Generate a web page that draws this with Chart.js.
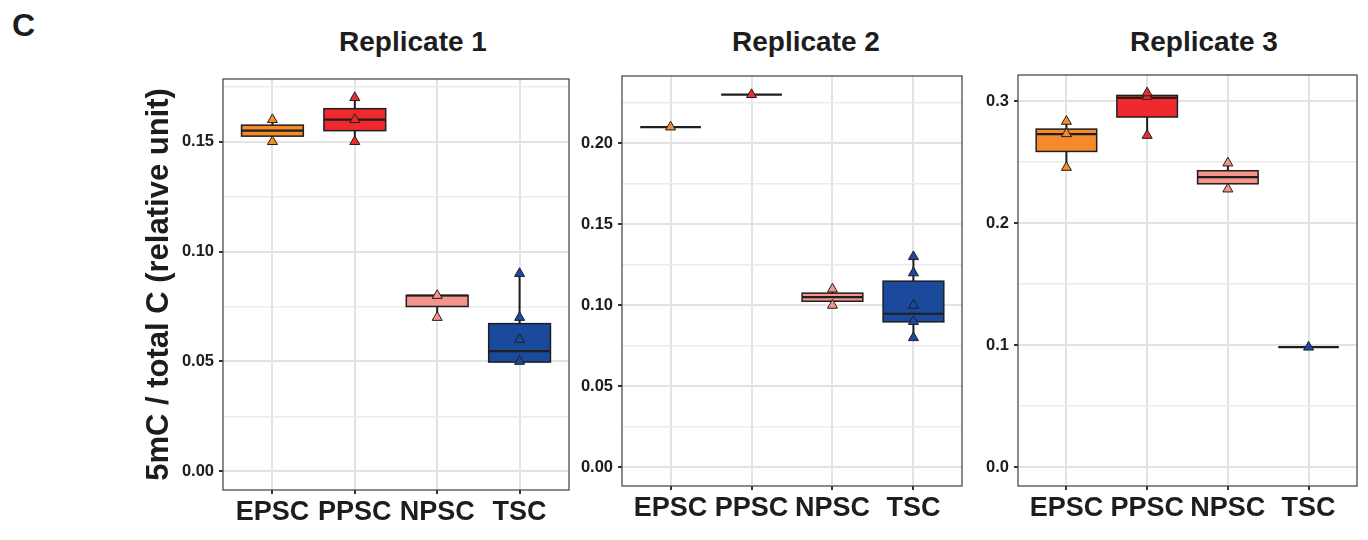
<!DOCTYPE html>
<html>
<head>
<meta charset="utf-8">
<script src="https://cdn.jsdelivr.net/npm/chart.js@4.4.1/dist/chart.umd.min.js"></script>
<style>
  html, body { margin: 0; padding: 0; background: #fff; }
  body { width: 1368px; height: 540px; position: relative; overflow: hidden;
         font-family: 'Liberation Sans', Arial, sans-serif; color: #1d1d1d; }
  .lbl { position: absolute; font-weight: bold; white-space: nowrap; }
  .title { font-size: 28px; line-height: 28px; width: 300px; text-align: center; top: 28px; }
  canvas { position: absolute; top: 0; }
</style>
</head>
<body>
<div class="lbl" style="left:12px; top:9px; font-size:32px; line-height:32px;">C</div>
<div class="lbl title" style="left:263px;">Replicate 1</div>
<div class="lbl title" style="left:656px;">Replicate 2</div>
<div class="lbl title" style="left:1054px;">Replicate 3</div>

<canvas id="rep1" width="576" height="540" style="left:0px"></canvas>
<canvas id="rep2" width="400" height="540" style="left:570px"></canvas>
<canvas id="rep3" width="402" height="540" style="left:966px"></canvas>

<script>
// categories and group colours
const categories = ['EPSC', 'PPSC', 'NPSC', 'TSC'];
const fillColors = ['#F58A2B', '#EE2A2F', '#F4948B', '#1B4A9C'];

// Replicate 1 - individual measurements and box statistics
const rep1Points = [[0.15, 0.16], [0.15, 0.16, 0.17], [0.07, 0.08], [0.05, 0.06, 0.07, 0.09]];
const rep1Lo  = [0.15, 0.15, 0.07, 0.05];
const rep1Q1  = [0.1525, 0.155, 0.075, 0.0497];
const rep1Med = [0.155, 0.16, 0.08, 0.0547];
const rep1Q3  = [0.1575, 0.165, 0.08, 0.0672];
const rep1Hi  = [0.16, 0.17, 0.08, 0.09];
const rep1Ticks  = [0, 0.05, 0.10, 0.15];
const rep1Labels = ['0.00', '0.05', '0.10', '0.15'];
const rep1Minor  = [0.025, 0.075, 0.125, 0.175];

// Replicate 2
const rep2Points = [[0.21], [0.23], [0.10, 0.11], [0.08, 0.09, 0.10, 0.12, 0.13]];
const rep2Lo  = [0.21, 0.23, 0.10, 0.08];
const rep2Q1  = [0.21, 0.23, 0.1025, 0.0898];
const rep2Med = [0.21, 0.23, 0.105, 0.0948];
const rep2Q3  = [0.21, 0.23, 0.1075, 0.1149];
const rep2Hi  = [0.21, 0.23, 0.11, 0.13];
const rep2Ticks  = [0, 0.05, 0.10, 0.15, 0.20];
const rep2Labels = ['0.00', '0.05', '0.10', '0.15', '0.20'];
const rep2Minor  = [0.025, 0.075, 0.125, 0.175, 0.225];

// Replicate 3
const rep3Points = [[0.2456, 0.2732, 0.2833], [0.2718, 0.3038, 0.3066], [0.2279, 0.2492], [0.0984]];
const rep3Lo  = [0.2456, 0.2718, 0.2279, 0.0984];
const rep3Q1  = [0.2587, 0.2869, 0.2322, 0.0984];
const rep3Med = [0.2729, 0.3025, 0.2377, 0.0984];
const rep3Q3  = [0.2770, 0.3046, 0.2429, 0.0984];
const rep3Hi  = [0.2833, 0.3066, 0.2492, 0.0984];
const rep3Ticks  = [0, 0.1, 0.2, 0.3];
const rep3Labels = ['0.0', '0.1', '0.2', '0.3'];
const rep3Minor  = [0.05, 0.15, 0.25];

const FONT = "'Liberation Sans', Arial, sans-serif";
const INK = '#1d1d1d';

// box + whiskers + median, drawn under the points
const boxPlugin = {
    id: 'boxes',
    beforeDatasetsDraw(chart, args, opts) {
        const ctx = chart.ctx;
        const xs = chart.scales.x, ys = chart.scales.y;
        ctx.save();
        ctx.strokeStyle = '#1f1f1f';
        opts.q1.forEach((q1, i) => {
            const c = xs.getPixelForValue(i + 1);
            const l = xs.getPixelForValue(i + 1 - 0.375);
            const r = xs.getPixelForValue(i + 1 + 0.375);
            const y1 = ys.getPixelForValue(q1);
            const y3 = ys.getPixelForValue(opts.q3[i]);
            const ym = ys.getPixelForValue(opts.med[i]);

            // whiskers
            ctx.lineWidth = 2;
            ctx.beginPath();
            ctx.moveTo(c, ys.getPixelForValue(opts.hi[i]));
            ctx.lineTo(c, y3);
            ctx.moveTo(c, y1);
            ctx.lineTo(c, ys.getPixelForValue(opts.lo[i]));
            ctx.stroke();

            // box
            if (y1 - y3 > 0.5) {
                ctx.fillStyle = fillColors[i];
                ctx.fillRect(l, y3, r - l, y1 - y3);
                ctx.lineWidth = 1.5;
                ctx.strokeRect(l, y3, r - l, y1 - y3);
            }

            // median
            ctx.lineWidth = 2.2;
            ctx.beginPath();
            ctx.moveTo(l, ym);
            ctx.lineTo(r, ym);
            ctx.stroke();
        });
        ctx.restore();
    }
};

// panel border on top
const framePlugin = {
    id: 'frame',
    afterDatasetsDraw(chart) {
        const {ctx, chartArea: a} = chart;
        ctx.save();
        ctx.strokeStyle = '#3c3c3c';
        ctx.lineWidth = 1.2;
        ctx.strokeRect(a.left, a.top, a.right - a.left, a.bottom - a.top);
        ctx.restore();
    }
};

function buildPanel(canvasId, cfg) {
    const datasets = cfg.points.map((pts, i) => ({
        data: pts.map(v => ({x: i + 1, y: v})),
        pointStyle: 'triangle',
        pointRadius: 5.8,
        pointBackgroundColor: fillColors[i],
        pointBorderColor: '#1f1f1f',
        pointBorderWidth: 1
    }));

    const majorTicks = cfg.ticks;
    const isMajor = v => majorTicks.indexOf(v) >= 0;

    return new Chart(document.getElementById(canvasId), {
        type: 'scatter',
        data: { datasets: datasets },
        options: {
            responsive: false,
            animation: false,
            layout: { padding: cfg.padding },
            plugins: {
                legend: { display: false },
                tooltip: { enabled: false },
                boxes: { q1: cfg.q1, q3: cfg.q3, med: cfg.med, lo: cfg.lo, hi: cfg.hi }
            },
            scales: {
                x: {
                    type: 'linear',
                    min: 0.4,
                    max: 4.6,
                    afterBuildTicks: s => { s.ticks = categories.map((c, i) => ({value: i + 1})); },
                    afterFit: s => { s.height = cfg.xHeight; },
                    ticks: {
                        autoSkip: false,
                        maxRotation: 0,
                        padding: 2,
                        color: INK,
                        font: { family: FONT, size: 27, weight: 'bold' },
                        callback: (v, idx) => categories[idx]
                    },
                    grid: { color: '#E3E3E3', lineWidth: 2, tickLength: 4, tickColor: '#333', tickWidth: 2 },
                    border: { display: false }
                },
                y: {
                    min: cfg.yMin,
                    max: cfg.yMax,
                    afterBuildTicks: s => {
                        s.ticks = majorTicks.concat(cfg.minor).sort((a, b) => a - b).map(v => ({value: v}));
                    },
                    afterFit: s => { s.width = cfg.yWidth; },
                    title: {
                        display: !!cfg.yTitle,
                        text: cfg.yTitle || '',
                        color: INK,
                        font: { family: FONT, size: 31, weight: 'bold' },
                        padding: { top: 0, bottom: 0 }
                    },
                    ticks: {
                        autoSkip: false,
                        padding: 5,
                        color: INK,
                        font: { family: FONT, size: 16.5, weight: 'bold' },
                        callback: v => {
                            const k = majorTicks.indexOf(v);
                            return k >= 0 ? cfg.labels[k] : '';
                        }
                    },
                    grid: {
                        color: c => isMajor(c.tick.value) ? '#E3E3E3' : '#EBEBEB',
                        lineWidth: c => isMajor(c.tick.value) ? 2 : 1.6,
                        tickLength: 4,
                        tickWidth: 2,
                        tickColor: c => isMajor(c.tick.value) ? '#333' : 'rgba(0,0,0,0)'
                    },
                    border: { display: false }
                }
            }
        },
        plugins: [boxPlugin, framePlugin]
    });
}

buildPanel('rep1', {
    points: rep1Points, lo: rep1Lo, q1: rep1Q1, med: rep1Med, q3: rep1Q3, hi: rep1Hi,
    ticks: rep1Ticks, labels: rep1Labels, minor: rep1Minor,
    yMin: -0.0085, yMax: 0.1785,
    yTitle: '5mC / total C (relative unit)',
    padding: { left: 141, top: 79, right: 7, bottom: 0 },
    yWidth: 82, xHeight: 50
});

buildPanel('rep2', {
    points: rep2Points, lo: rep2Lo, q1: rep2Q1, med: rep2Med, q3: rep2Q3, hi: rep2Hi,
    ticks: rep2Ticks, labels: rep2Labels, minor: rep2Minor,
    yMin: -0.0115, yMax: 0.2415,
    padding: { left: 0, top: 76, right: 8, bottom: 0 },
    yWidth: 52, xHeight: 54
});

buildPanel('rep3', {
    points: rep3Points, lo: rep3Lo, q1: rep3Q1, med: rep3Med, q3: rep3Q3, hi: rep3Hi,
    ticks: rep3Ticks, labels: rep3Labels, minor: rep3Minor,
    yMin: -0.0153, yMax: 0.3213,
    padding: { left: 0, top: 75, right: 11, bottom: 0 },
    yWidth: 52, xHeight: 54
});
</script>
</body>
</html>
